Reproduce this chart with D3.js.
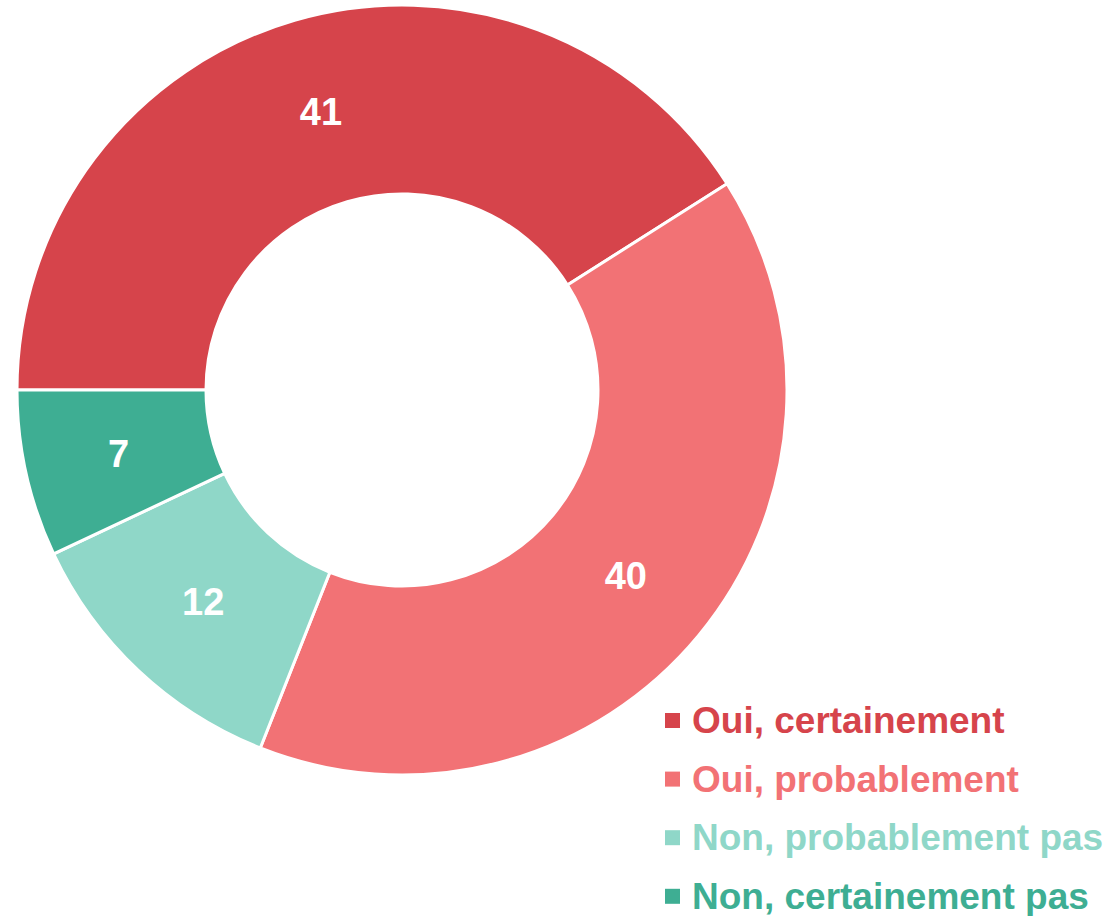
<!DOCTYPE html>
<html>
<head>
<meta charset="utf-8">
<script src="https://cdn.jsdelivr.net/npm/d3@7"></script>
<style>
  body { margin: 0; background: #fff; }
  svg { display: block; font-family: "Liberation Sans", Arial, sans-serif; }
</style>
</head>
<body>
<div id="chart"></div>
<script>
const categories = ["Oui, certainement", "Oui, probablement", "Non, probablement pas", "Non, certainement pas"];
const values = [41, 40, 12, 7];
const colors = ["#d6444b", "#f27275", "#8fd7c8", "#3eae93"];

const width = 1109, height = 916;
const cx = 402, cy = 390;
const outerR = 385, innerR = 196;

const svg = d3.select("#chart").append("svg")
  .attr("width", width)
  .attr("height", height);

const data = categories.map((c, i) => ({ name: c, value: values[i], color: colors[i] }));

const pie = d3.pie()
  .value(d => d.value)
  .sort(null)
  .startAngle(-Math.PI / 2)
  .endAngle(1.5 * Math.PI);

const arc = d3.arc().innerRadius(innerR).outerRadius(outerR);

const g = svg.append("g").attr("transform", `translate(${cx},${cy})`);

const arcs = pie(data);

g.selectAll("path")
  .data(arcs)
  .join("path")
  .attr("d", arc)
  .attr("fill", d => d.data.color)
  .attr("stroke", "#fff")
  .attr("stroke-width", 3);

// value labels at slice centroids
g.selectAll("text")
  .data(arcs)
  .join("text")
  .attr("transform", d => `translate(${arc.centroid(d)})`)
  .attr("text-anchor", "middle")
  .attr("dy", "0.36em")
  .attr("fill", "#fff")
  .attr("font-weight", "bold")
  .attr("font-size", 38)
  .text(d => d.data.value);

// legend
const legend = svg.append("g").attr("transform", "translate(665,733)");
const rows = legend.selectAll("g")
  .data(data)
  .join("g")
  .attr("transform", (d, i) => `translate(0,${i * 58.6})`);

rows.append("rect")
  .attr("x", 0)
  .attr("y", -20)
  .attr("width", 15)
  .attr("height", 15)
  .attr("fill", d => d.color);

rows.append("text")
  .attr("x", 27)
  .attr("y", 0)
  .attr("fill", d => d.color)
  .attr("font-weight", "bold")
  .attr("font-size", 37)
  .text(d => d.name);
</script>
</body>
</html>
